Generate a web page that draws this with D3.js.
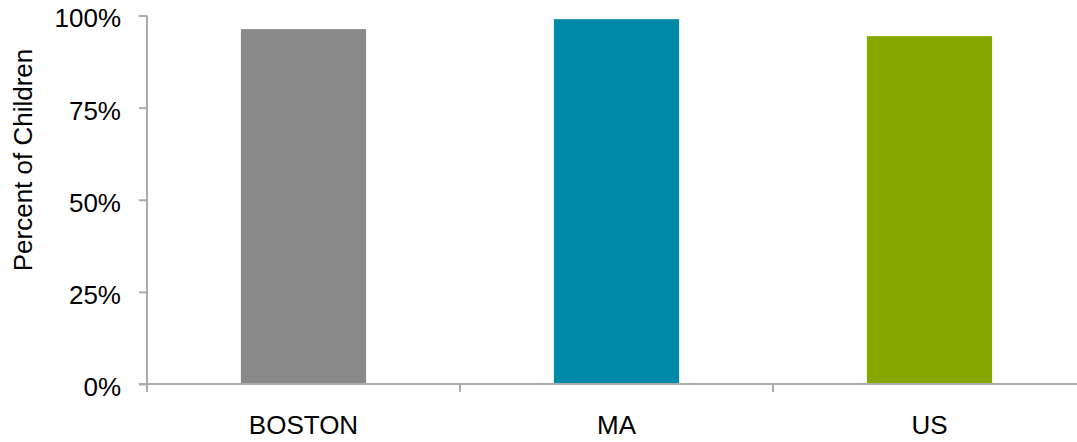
<!DOCTYPE html>
<html>
<head>
<meta charset="utf-8">
<script src="https://cdn.jsdelivr.net/npm/d3@7"></script>
<style>
  html, body { margin: 0; padding: 0; background: #fff; }
  svg { display: block; font-family: "Liberation Sans", Arial, sans-serif; }
</style>
</head>
<body>
<div id="chart"></div>
<script>
const categories = ["BOSTON", "MA", "US"];
const values = [96.3, 99.0, 94.4];
const barColors = ["#898989", "#0088a8", "#86a600"];
const yTicks = [0, 25, 50, 75, 100];
const yTitle = "Percent of Children";

const W = 1077, H = 442;
const mLeft = 147, mRight = 1086, mTop = 15.5, mBottom = 384;
const fontSize = "26px";

const svg = d3.select("#chart").append("svg").attr("width", W).attr("height", H);

const x = d3.scaleBand().domain(categories).range([mLeft, mRight]).paddingInner(0.6).paddingOuter(0.3);
const y = d3.scaleLinear().domain([0, 100]).range([mBottom, mTop]);

// bars
svg.selectAll("rect.bar").data(categories).enter().append("rect")
  .attr("class", "bar")
  .attr("x", d => x(d))
  .attr("width", x.bandwidth())
  .attr("y", (d, i) => y(values[i]))
  .attr("height", (d, i) => y(0) - y(values[i]))
  .attr("fill", (d, i) => barColors[i]);

const axisColor = "#ababab";

// y axis
const yAxis = d3.axisLeft(y).tickValues(yTicks).tickFormat(d => d + "%").tickSize(8).tickSizeOuter(0);
const gy = svg.append("g").attr("transform", `translate(${mLeft},0)`).call(yAxis);
gy.select(".domain").attr("stroke", axisColor).attr("stroke-width", 2).attr("d", `M0,${mTop}V${mBottom + 8}`);
gy.selectAll(".tick line").attr("stroke", axisColor).attr("stroke-width", 2);
gy.selectAll(".tick text").attr("x", -26).attr("y", 2).attr("dy", "0.36em")
  .style("font-size", fontSize).style("font-family", "Liberation Sans, Arial, sans-serif").attr("fill", "#000");

// x axis
const step = x.step();
const boundaries = categories.map(c => x(c) - x.paddingInner() * step / 2)
  .concat([x(categories[categories.length - 1]) + x.bandwidth() + x.paddingInner() * step / 2]);
const gx = svg.append("g");
gx.append("line").attr("x1", mLeft - 8).attr("x2", W).attr("y1", mBottom).attr("y2", mBottom)
  .attr("stroke", axisColor).attr("stroke-width", 2);
gx.selectAll("line.tk").data(boundaries).enter().append("line").attr("class", "tk")
  .attr("x1", d => d).attr("x2", d => d).attr("y1", mBottom).attr("y2", mBottom + 8)
  .attr("stroke", axisColor).attr("stroke-width", 2);
gx.selectAll("text").data(categories).enter().append("text")
  .attr("x", d => x(d) + x.bandwidth() / 2)
  .attr("y", 434)
  .attr("text-anchor", "middle")
  .style("font-size", fontSize).attr("fill", "#000")
  .text(d => d);

// y title
svg.append("text")
  .attr("transform", `translate(32,160) rotate(-90)`)
  .attr("text-anchor", "middle")
  .style("font-size", fontSize).attr("fill", "#000")
  .text(yTitle);
</script>
</body>
</html>
